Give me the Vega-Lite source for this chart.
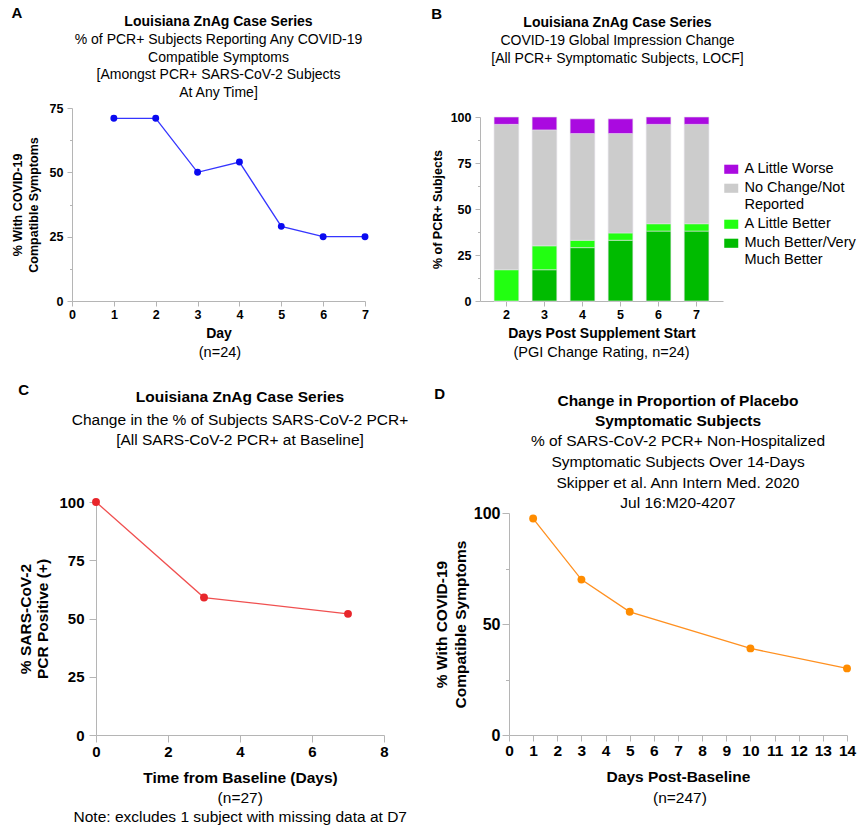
{
  "$schema": "https://vega.github.io/schema/vega-lite/v6.json",
  "padding": {"left": 11, "top": 5, "right": 2, "bottom": 2},
  "background": "white",
  "config": {
    "font": "Liberation Sans",
    "view": {"stroke": null},
    "axis": {"grid": false, "labelFlush": false, "domainColor": "#b5b5b5", "tickColor": "#b5b5b5", "labelColor": "#000000", "labelFontWeight": "bold", "titleColor": "#000000", "titleFontWeight": "bold", "labelFont": "Liberation Sans", "titleFont": "Liberation Sans"},
    "title": {"color": "#000000", "subtitleColor": "#000000", "font": "Liberation Sans", "subtitleFont": "Liberation Sans"},
    "legend": {"labelFont": "Liberation Sans"}
  },
  "resolve": {"scale": {"color": "independent"}, "legend": {"color": "independent"}},
  "vconcat": [
    {
      "resolve": {"scale": {"color": "independent"}, "legend": {"color": "independent"}},
      "hconcat": [
        {
          "title": {"text": "A", "anchor": "start", "frame": "bounds", "fontSize": 15, "fontWeight": "bold", "offset": -6},
          "vconcat": [
            {
              "title": {"text": "(n=24)", "orient": "bottom", "anchor": "middle", "dx": 30, "fontSize": 14.5, "fontWeight": "normal", "offset": 5},
              "vconcat": [
                {
                  "width": 293,
                  "height": 193,
                  "title": {"text": "Louisiana ZnAg Case Series", "subtitle": ["% of PCR+ Subjects Reporting Any COVID-19", "Compatible Symptoms", "[Amongst PCR+ SARS-CoV-2 Subjects", "At Any Time]"], "anchor": "middle", "fontSize": 14, "fontWeight": "bold", "subtitleFontSize": 14, "subtitleLineHeight": 17.7, "subtitlePadding": 4, "offset": 2},
                  "data": {"values": [
                    {"day": 1, "pct": 71}, {"day": 2, "pct": 71}, {"day": 3, "pct": 50}, {"day": 4, "pct": 54},
                    {"day": 5, "pct": 29}, {"day": 6, "pct": 25}, {"day": 7, "pct": 25}
                  ]},
                  "encoding": {
                    "x": {"field": "day", "type": "quantitative", "scale": {"domain": [0, 7], "nice": false}, "axis": {"values": [0, 1, 2, 3, 4, 5, 6, 7], "labelOverlap": false, "title": "Day", "titleFontSize": 14, "labelFontSize": 12.5, "tickSize": 5, "labelPadding": 2, "titlePadding": 6}},
                    "y": {"field": "pct", "type": "quantitative", "scale": {"domain": [0, 75], "nice": false}, "axis": {"values": [0, 12.5, 25, 37.5, 50, 62.5, 75], "labelExpr": "datum.value % 25 == 0 ? datum.label : ''", "labelOverlap": false, "tickSize": {"condition": {"test": "datum.value % 25 != 0", "value": 2.5}, "value": 5}, "labelPadding": 4, "title": ["% With COVID-19", "Compatible Symptoms"], "titleFontSize": 12.5, "titleLineHeight": 15.7, "labelFontSize": 12.5, "titlePadding": 9}}
                  },
                  "layer": [
                    {"mark": {"type": "line", "color": "#3535ff", "strokeWidth": 1.3}},
                    {"mark": {"type": "point", "filled": true, "color": "#0a0af0", "opacity": 1, "size": 48}}
                  ]
                }
              ]
            }
          ]
        },
        {
          "title": {"text": "B", "anchor": "start", "frame": "bounds", "fontSize": 15, "fontWeight": "bold", "offset": -6},
          "resolve": {"scale": {"color": "independent"}, "legend": {"color": "independent"}},
          "vconcat": [
            {
              "title": {"text": "(PGI Change Rating, n=24)", "orient": "bottom", "anchor": "middle", "dx": -42, "fontSize": 14.5, "fontWeight": "normal", "offset": 5},
              "resolve": {"scale": {"color": "independent"}, "legend": {"color": "independent"}},
              "vconcat": [
                {
                  "width": 243,
                  "height": 193,
                  "title": {"text": "Louisiana ZnAg Case Series", "subtitle": ["COVID-19 Global Impression Change", "[All PCR+ Symptomatic Subjects, LOCF]"], "anchor": "middle", "dx": 16, "fontSize": 14, "fontWeight": "bold", "subtitleFontSize": 14, "subtitleLineHeight": 18, "subtitlePadding": 4, "offset": 42},
                  "data": {"values": [
                    {"day": 2, "category": "Much Better/Very Much Better", "rank": 1, "pct": 0},
                    {"day": 2, "category": "A Little Better", "rank": 2, "pct": 17},
                    {"day": 2, "category": "No Change/Not Reported", "rank": 3, "pct": 79},
                    {"day": 2, "category": "A Little Worse", "rank": 4, "pct": 4},
                    {"day": 3, "category": "Much Better/Very Much Better", "rank": 1, "pct": 17},
                    {"day": 3, "category": "A Little Better", "rank": 2, "pct": 13},
                    {"day": 3, "category": "No Change/Not Reported", "rank": 3, "pct": 63},
                    {"day": 3, "category": "A Little Worse", "rank": 4, "pct": 7},
                    {"day": 4, "category": "Much Better/Very Much Better", "rank": 1, "pct": 29},
                    {"day": 4, "category": "A Little Better", "rank": 2, "pct": 4},
                    {"day": 4, "category": "No Change/Not Reported", "rank": 3, "pct": 58},
                    {"day": 4, "category": "A Little Worse", "rank": 4, "pct": 8},
                    {"day": 5, "category": "Much Better/Very Much Better", "rank": 1, "pct": 33},
                    {"day": 5, "category": "A Little Better", "rank": 2, "pct": 4},
                    {"day": 5, "category": "No Change/Not Reported", "rank": 3, "pct": 54},
                    {"day": 5, "category": "A Little Worse", "rank": 4, "pct": 8},
                    {"day": 6, "category": "Much Better/Very Much Better", "rank": 1, "pct": 38},
                    {"day": 6, "category": "A Little Better", "rank": 2, "pct": 4},
                    {"day": 6, "category": "No Change/Not Reported", "rank": 3, "pct": 54},
                    {"day": 6, "category": "A Little Worse", "rank": 4, "pct": 4},
                    {"day": 7, "category": "Much Better/Very Much Better", "rank": 1, "pct": 38},
                    {"day": 7, "category": "A Little Better", "rank": 2, "pct": 4},
                    {"day": 7, "category": "No Change/Not Reported", "rank": 3, "pct": 54},
                    {"day": 7, "category": "A Little Worse", "rank": 4, "pct": 4}
                  ]},
                  "mark": {"type": "bar", "stroke": "#e4e0ea", "strokeWidth": 0.6},
                  "encoding": {
                    "x": {"field": "day", "type": "ordinal", "scale": {"paddingInner": 0.35, "paddingOuter": 0.37}, "axis": {"title": "Days Post Supplement Start", "titleFontSize": 14, "labelFontSize": 12.5, "labelAngle": 0, "tickSize": 5, "labelPadding": 2, "titlePadding": 6}},
                    "y": {"field": "pct", "type": "quantitative", "stack": "zero", "scale": {"domain": [0, 100], "nice": false, "range": [193, 9]}, "axis": {"values": [0, 12.5, 25, 37.5, 50, 62.5, 75, 87.5, 100], "labelExpr": "datum.value % 25 == 0 ? datum.label : ''", "labelOverlap": false, "tickSize": {"condition": {"test": "datum.value % 25 != 0", "value": 2.5}, "value": 5}, "labelPadding": 4, "title": "% of PCR+ Subjects", "titleFontSize": 12.5, "labelFontSize": 12.5, "titlePadding": 6}},
                    "order": {"field": "rank", "type": "quantitative", "sort": "ascending"},
                    "color": {"field": "category", "type": "nominal",
                      "scale": {"domain": ["A Little Worse", "No Change/Not Reported", "A Little Better", "Much Better/Very Much Better"], "range": ["#aa0ae0", "#cccccc", "#22ff11", "#00bb00"]},
                      "legend": {"title": " ", "titleFontSize": 6, "titlePadding": 48, "orient": "right", "offset": 1, "symbolType": "M-1,-0.65H1V0.65H-1Z", "symbolSize": 196, "symbolStrokeWidth": 0, "labelFontSize": 14.5, "labelFontWeight": "normal", "labelColor": "#000000", "labelLimit": 200, "labelOffset": 6, "rowPadding": 4,
                        "labelExpr": "datum.label == 'No Change/Not Reported' ? ['No Change/Not', 'Reported'] : datum.label == 'Much Better/Very Much Better' ? ['Much Better/Very', 'Much Better'] : datum.label"}
                    }
                  }
                }
              ]
            }
          ]
        }
      ],
      "spacing": 62
    },
    {
      "hconcat": [
        {
          "title": {"text": "C", "anchor": "start", "frame": "bounds", "fontSize": 15, "fontWeight": "bold", "offset": -8},
          "vconcat": [
            {
              "title": {"text": ["(n=27)", "Note: excludes 1 subject with missing data at D7"], "orient": "bottom", "anchor": "middle", "dx": 27, "fontSize": 15.5, "lineHeight": 19.5, "fontWeight": "normal", "offset": 5},
              "vconcat": [
                {
                  "width": 312,
                  "height": 233,
                  "title": {"text": "Louisiana ZnAg Case Series", "subtitle": ["Change in the % of Subjects SARS-CoV-2 PCR+", "[All SARS-CoV-2 PCR+ at Baseline]"], "anchor": "middle", "dx": 12, "fontSize": 15.5, "fontWeight": "bold", "subtitleFontSize": 15.5, "subtitleLineHeight": 20.7, "subtitlePadding": 7, "offset": 46},
                  "data": {"values": [
                    {"time": 0, "pct": 100}, {"time": 3, "pct": 59}, {"time": 7, "pct": 52}
                  ]},
                  "encoding": {
                    "x": {"field": "time", "type": "quantitative", "scale": {"domain": [0, 8], "nice": false, "range": [24, 312]}, "axis": {"values": [0, 2, 4, 6, 8], "labelOverlap": false, "title": "Time from Baseline (Days)", "titleFontSize": 15.5, "labelFontSize": 15, "tickSize": 7, "labelPadding": 2, "titlePadding": 11}},
                    "y": {"field": "pct", "type": "quantitative", "scale": {"domain": [0, 100], "nice": false}, "axis": {"offset": -24, "values": [0, 25, 50, 75, 100], "labelOverlap": false, "tickSize": 7, "labelPadding": 5, "title": ["% SARS-CoV-2", "PCR Positive (+)"], "titleFontSize": 15.5, "titleLineHeight": 17.7, "labelFontSize": 15, "titlePadding": 8}}
                  },
                  "layer": [
                    {"mark": {"type": "line", "color": "#f05050", "strokeWidth": 1.3}},
                    {"mark": {"type": "point", "filled": true, "color": "#e8262b", "opacity": 1, "size": 62}}
                  ]
                }
              ]
            }
          ]
        },
        {
          "title": {"text": "D", "anchor": "start", "frame": "bounds", "fontSize": 15, "fontWeight": "bold", "offset": -8},
          "vconcat": [
            {
              "title": {"text": "(n=247)", "orient": "bottom", "anchor": "middle", "dx": 35, "fontSize": 15.5, "fontWeight": "normal", "offset": 6},
              "vconcat": [
                {
                  "width": 338,
                  "height": 233,
                  "title": {"text": ["Change in Proportion of Placebo", "Symptomatic Subjects"], "subtitle": ["% of SARS-CoV-2 PCR+ Non-Hospitalized", "Symptomatic Subjects Over 14-Days", "Skipper et al. Ann Intern Med. 2020", "Jul 16:M20-4207"], "anchor": "middle", "fontSize": 15.5, "lineHeight": 20, "fontWeight": "bold", "subtitleFontSize": 15.5, "subtitleLineHeight": 20.9, "subtitlePadding": 4, "offset": -10},
                  "data": {"values": [
                    {"day": 1, "pct": 97.5}, {"day": 3, "pct": 70}, {"day": 5, "pct": 55.5}, {"day": 10, "pct": 39}, {"day": 14, "pct": 30}
                  ]},
                  "encoding": {
                    "x": {"field": "day", "type": "quantitative", "scale": {"domain": [0, 14], "nice": false}, "axis": {"values": [0, 1, 2, 3, 4, 5, 6, 7, 8, 9, 10, 11, 12, 13, 14], "labelOverlap": false, "title": "Days Post-Baseline", "titleFontSize": 15.5, "labelFontSize": 15.5, "tickSize": 6, "labelPadding": 2, "titlePadding": 11}},
                    "y": {"field": "pct", "type": "quantitative", "scale": {"domain": [0, 100], "nice": false, "range": [233, 11]}, "axis": {"values": [0, 25, 50, 75, 100], "labelExpr": "datum.value % 50 == 0 ? datum.label : ''", "labelOverlap": false, "tickSize": {"condition": {"test": "datum.value % 50 != 0", "value": 3.5}, "value": 7}, "labelPadding": 2, "title": ["% With COVID-19", "Compatible Symptoms"], "titleFontSize": 15.5, "titleLineHeight": 19, "labelFontSize": 16, "titlePadding": 5}}
                  },
                  "layer": [
                    {"mark": {"type": "line", "color": "#ff9020", "strokeWidth": 1.3}},
                    {"mark": {"type": "point", "filled": true, "color": "#ff8c00", "opacity": 1, "size": 62}}
                  ]
                }
              ]
            }
          ]
        }
      ],
      "spacing": 25
    }
  ],
  "spacing": 24
}
